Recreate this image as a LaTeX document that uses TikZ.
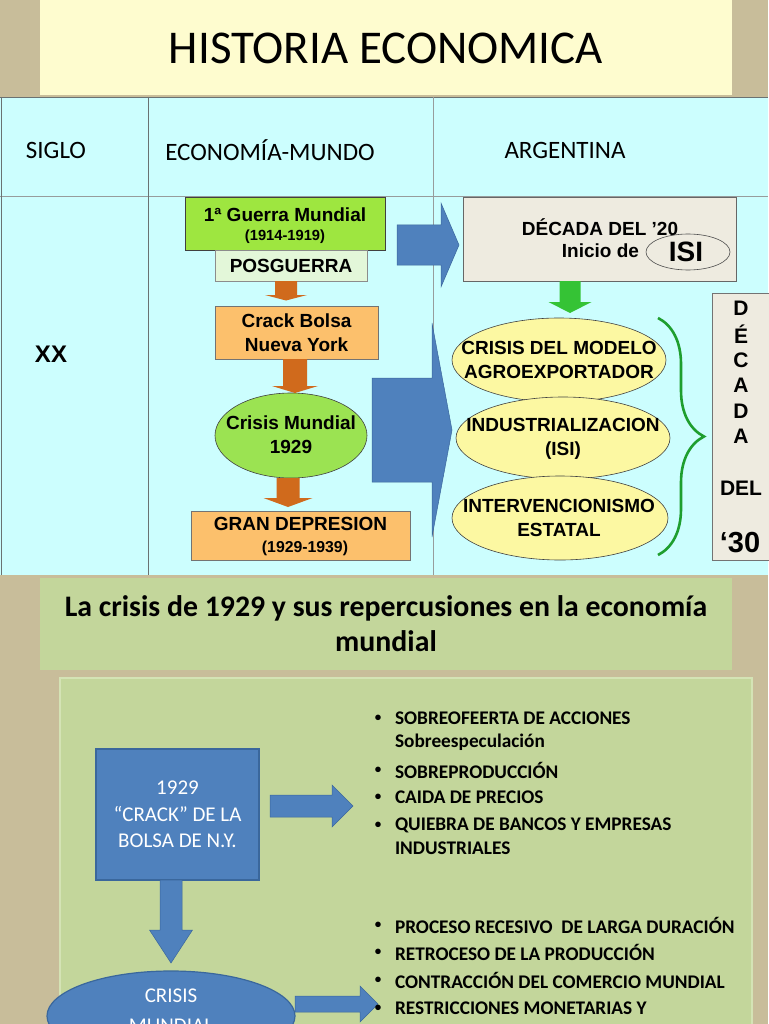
\documentclass[tikz,border=0pt]{standalone}
\usepackage{fontspec}
\setmainfont{Carlito}
\newfontfamily\ar{Liberation Sans}
\usetikzlibrary{shapes.geometric,decorations.pathreplacing,calc}
\definecolor{tanbg}{HTML}{C8BD9A}
\definecolor{titley}{HTML}{FEFCCF}
\definecolor{cyanbg}{HTML}{CCFEFE}
\definecolor{gridc}{HTML}{6A7272}
\definecolor{limeg}{HTML}{9EE640}
\definecolor{mint}{HTML}{E3F7D9}
\definecolor{orbox}{HTML}{FCC06C}
\definecolor{orarr}{HTML}{D06A1C}
\definecolor{ellg}{HTML}{9BE352}
\definecolor{greyb}{HTML}{EEEBE0}
\definecolor{yell}{HTML}{FCF8A2}
\definecolor{braceg}{HTML}{1E9E2E}
\definecolor{greenarr}{HTML}{35C335}
\definecolor{blueA}{HTML}{4F81BD}
\definecolor{blueB}{HTML}{3A679C}
\definecolor{olive}{HTML}{C3D69B}
\definecolor{olivel}{HTML}{D4E3B5}
\newcommand{\vArrow}[7]{\filldraw[#1] (#2-#6,#3) -- (#2+#6,#3) -- (#2+#6,#4) -- (#2+#7,#4) -- (#2,#5) -- (#2-#7,#4) -- (#2-#6,#4) -- cycle;}
\newcommand{\hArrow}[7]{\filldraw[#1] (#3,#2-#6) -- (#4,#2-#6) -- (#4,#2-#7) -- (#5,#2) -- (#4,#2+#7) -- (#4,#2+#6) -- (#3,#2+#6) -- cycle;}
\begin{document}
\begin{tikzpicture}[x=1pt,y=-1pt,
  every node/.style={inner sep=0pt, outer sep=0pt},
  arfont/.style={font={\ar\bfseries\fontsize{19}{23.5}\selectfont}},
  arbox/.style={rectangle, draw=black!75, line width=0.6pt, align=center, arfont},
  arell/.style={ellipse, draw=black!75, line width=0.6pt},
  artxt/.style={align=center, font={\ar\bfseries\fontsize{19}{23.5}\selectfont}},
  orangearrow/.style={fill=orarr, draw=none},
  greenarrow/.style={fill=greenarr, draw=none},
  bluearrow/.style={fill=blueA, draw=blueB, line width=0.5pt},
  gridline/.style={draw=gridc, line width=0.8pt},
  hdr/.style={font={\fontsize{25}{30}\selectfont}},
  vlet/.style={font={\ar\bfseries\fontsize{21}{24}\selectfont}},
  bul/.style={anchor=west, font={\bfseries\fontsize{19.3}{22}\selectfont}},
  dot/.style={font={\bfseries\fontsize{13}{15}\selectfont}},
]
\useasboundingbox (0,0) rectangle (768,1024);
\fill[tanbg] (0,0) rectangle (768,1024);

% title
\node[fill=titley, minimum width=692, minimum height=95] (title) at (386,47.5) {};
\node[font={\fontsize{47}{50}\selectfont}] (titlet) at (386,48) {HISTORIA ECONOMICA};

% table
\fill[cyanbg] (0,97) rectangle (768,575);
\draw[gridline] (0,97) -- (768,97);
\draw[gridline, draw=gridc!70] (0,196) -- (768,196);
\draw[gridline] (1,97) -- (1,575);
\draw[gridline] (148,97) -- (148,575);
\draw[gridline, draw=gridc!70] (433,97) -- (433,575);
\node[hdr] (siglo) at (56,150) {SIGLO};
\node[hdr] (ecom) at (270,150) {ECONOMÍA-MUNDO};
\node[hdr] (arg) at (565,150) {ARGENTINA};
\node[font={\ar\bfseries\fontsize{24}{26}\selectfont}] (xx) at (51,354) {XX};

% economia-mundo column
\node[arbox, fill=limeg, minimum width=200, minimum height=53] (gm) at (285,223.5) {};
\node[arfont] (gmt) at (285,215) {1ª Guerra Mundial};
\node[font={\ar\bfseries\fontsize{14.7}{17}\selectfont}] (gmd) at (285,237) {(1914-1919)};
\node[arbox, fill=mint, draw=black!45, minimum width=152, minimum height=31] (pos) at (291,265.5) {POSGUERRA};
\node[arbox, fill=orbox, draw=black!55, minimum width=163, minimum height=53] (crack) at (296.5,332.5) {Crack Bolsa\\Nueva York};
\node[arell, fill=ellg, minimum width=152, minimum height=85] (crisis) at (291,435.5) {};
\node[artxt, font={\ar\bfseries\fontsize{19}{24}\selectfont}] (crisist) at (291,435) {Crisis Mundial\\1929};
\node[arbox, fill=orbox, draw=black!55, minimum width=219, minimum height=49] (gran) at (300.5,535.5) {};
\node[arfont] (grant) at (300.5,524) {GRAN DEPRESION};
\node[font={\ar\bfseries\fontsize{15.8}{18}\selectfont}] (grand) at (305,548) {(1929-1939)};

\vArrow{orangearrow}{286}{281}{295}{300.5}{11}{21}
\vArrow{orangearrow}{295}{359}{386}{393}{12}{23}
\vArrow{orangearrow}{288}{478}{498}{507}{11.5}{24.5}

% big blue arrows
\hArrow{bluearrow}{245}{397}{441}{459}{20}{42}
\hArrow{bluearrow}{430}{372}{432}{452}{52}{107}

% argentina column
\node[arbox, fill=greyb, draw=black!60, minimum width=273, minimum height=84] (dec20) at (599.5,239) {};
\node[arfont] (dec20t) at (600,227) {DÉCADA DEL ’20};
\node[arfont, anchor=east] (inicio) at (639,251) {Inicio de};
\node[ellipse, draw=black!70, line width=0.6pt, minimum width=84, minimum height=36] (isi) at (688,252) {};
\node[font={\ar\bfseries\fontsize{28}{30}\selectfont}] (isit) at (686,252) {ISI};

\vArrow{greenarrow}{570}{281}{302}{313}{10.5}{21.5}

\node[arell, fill=yell, minimum width=214, minimum height=84] (e1) at (559,360) {};
\node[artxt] (e1t) at (559,360) {CRISIS DEL MODELO\\AGROEXPORTADOR};
\node[arell, fill=yell, minimum width=214, minimum height=82] (e2) at (563,438) {};
\node[artxt] (e2t) at (563,439) {INDUSTRIALIZACION\\(ISI)};
\node[arell, fill=yell, minimum width=216, minimum height=84] (e3) at (560,518) {};
\node[artxt] (e3t) at (559,518) {INTERVENCIONISMO\\ESTATAL};

\draw[braceg, line width=2.6pt, decorate, decoration={brace, amplitude=46pt, aspect=0.5}] (658,318) -- (658,555);

\node[rectangle, fill=greyb, draw=black!55, line width=0.6pt, minimum width=57, minimum height=267] (dec30) at (740.5,426.5) {};
\node[vlet] (l1) at (741,308) {D};
\node[vlet] (l2) at (741,334) {É};
\node[vlet] (l3) at (741,360) {C};
\node[vlet] (l4) at (741,385) {A};
\node[vlet] (l5) at (741,411) {D};
\node[vlet] (l6) at (741,436) {A};
\node[vlet] (l7) at (741,488) {DEL};
\node[font={\ar\bfseries\fontsize{29}{32}\selectfont}] (l8) at (740,543) {‘30};

% lower section
\node[fill=olive, minimum width=692, minimum height=92, align=center, font={\bfseries\fontsize{29.8}{35}\selectfont}] (sub) at (386,624) {La crisis de 1929 y sus repercusiones en la economía\\mundial};
\filldraw[fill=olive, draw=olivel, line width=1.2pt] (60,678) rectangle (752,1030);

\node[rectangle, fill=blueA, draw=blueB, line width=1.2pt, minimum width=163, minimum height=131, align=center, text=white, font={\fontsize{21}{26.5}\selectfont}] (crack29) at (177.5,814.5) {1929\\“CRACK” DE LA\\BOLSA DE N.Y.};
\node[ellipse, fill=blueA, draw=blueB, line width=1.2pt, minimum width=248, minimum height=90] (crisisM) at (171,1016) {};
\node[align=center, text=white, font={\fontsize{21}{30}\selectfont}] (crisisMt) at (171,1011) {CRISIS\\MUNDIAL};

\hArrow{bluearrow}{806}{270}{332}{353}{11}{21}
\vArrow{bluearrow}{171}{880}{930}{963}{11}{21.5}
\hArrow{bluearrow}{1004}{295}{360}{378}{8}{18}

% bullet list 1
\node[dot] (b1) at (378,718) {•};
\node[bul] (t1) at (395,718) {SOBREOFEERTA DE ACCIONES};
\node[bul] (t1b) at (395,742) {Sobreespeculación};
\node[dot] (b2) at (378,770) {•};
\node[bul] (t2) at (395,770) {SOBREPRODUCCIÓN};
\node[dot] (b3) at (378,797) {•};
\node[bul] (t3) at (395,797) {CAIDA DE PRECIOS};
\node[dot] (b4) at (378,825) {•};
\node[bul] (t4) at (395,825) {QUIEBRA DE BANCOS Y EMPRESAS};
\node[bul] (t4b) at (395,848) {INDUSTRIALES};

% bullet list 2
\node[dot] (c1) at (378,925) {•};
\node[bul] (u1) at (395,925) {PROCESO RECESIVO~ DE LARGA DURACIÓN};
\node[dot] (c2) at (378,952) {•};
\node[bul] (u2) at (395,952) {RETROCESO DE LA PRODUCCIÓN};
\node[dot] (c3) at (378,980) {•};
\node[bul] (u3) at (395,980) {CONTRACCIÓN DEL COMERCIO MUNDIAL};
\node[dot] (c4) at (378,1008) {•};
\node[bul] (u4) at (395,1008) {RESTRICCIONES MONETARIAS Y};
\end{tikzpicture}
\end{document}
